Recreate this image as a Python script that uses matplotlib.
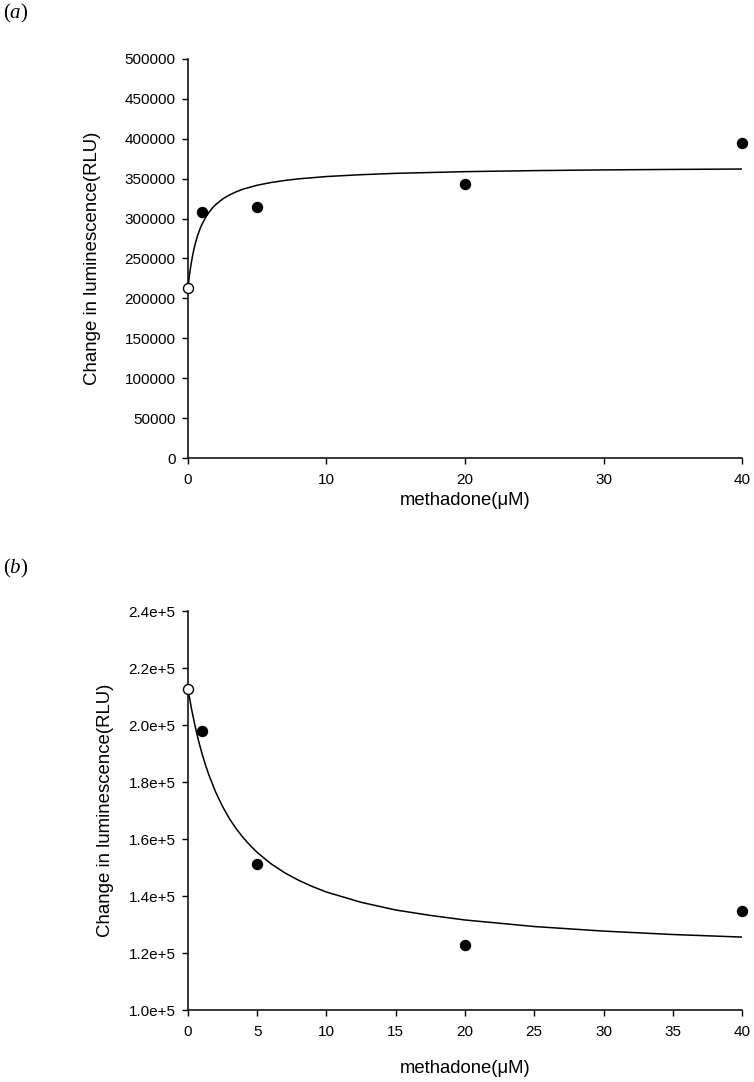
import matplotlib
matplotlib.use("Agg")
import matplotlib.pyplot as plt
from matplotlib.ticker import FuncFormatter

plt.rcParams["font.family"] = ["Liberation Sans", "DejaVu Sans"]
plt.rcParams["mathtext.fontset"] = "custom"
plt.rcParams["mathtext.it"] = "Liberation Serif:italic"
plt.rcParams["mathtext.rm"] = "Liberation Serif"

# measured points (methadone dose, luminescence)
dose = [0, 1, 5, 20, 40]
lum_a = [213000, 308000, 315000, 343000, 395000]
lum_b = [212600, 198000, 151200, 122800, 134700]

# fitted curves
fit_x_a = [0, 0.05, 0.1, 0.15, 0.2, 0.3, 0.4, 0.5, 0.6, 0.7, 0.8, 0.9, 1, 1.25, 1.5,
           1.75, 2, 2.5, 3, 3.5, 4, 5, 6, 7, 8, 10, 12.5, 15, 20, 25, 30, 35, 40]
fit_y_a = [213000, 220800, 228000, 234500, 240200, 250400, 259200, 266700, 273200,
           278900, 283900, 288400, 292400, 300600, 307500, 313000, 317500, 324500,
           329700, 333700, 337000, 341800, 345200, 347800, 349800, 352700, 355000,
           356700, 358800, 360100, 361000, 361600, 362100]
fit_x_b = [0, 0.25, 0.5, 0.75, 1, 1.25, 1.5, 2, 2.5, 3, 3.5, 4, 4.5, 5, 6, 7, 8, 9, 10,
           12.5, 15, 17.5, 20, 25, 30, 35, 40]
fit_y_b = [212600, 205800, 199900, 194700, 190200, 186200, 182600, 176450, 171400,
           167100, 163500, 160400, 157700, 155300, 151300, 148100, 145500, 143300,
           141400, 137800, 135100, 133200, 131600, 129300, 127700, 126500, 125600]

xticks_a = [0, 10, 20, 30, 40]
yticks_a = list(range(0, 500001, 50000))
xticks_b = [0, 5, 10, 15, 20, 25, 30, 35, 40]
yticks_b = [1.0e5, 1.2e5, 1.4e5, 1.6e5, 1.8e5, 2.0e5, 2.2e5, 2.4e5]

fig = plt.figure(figsize=(7.54, 10.82), dpi=100)
ax_a = fig.add_axes([0.2493, 0.5767, 0.7348, 0.3688])
ax_b = fig.add_axes([0.2493, 0.0665, 0.7348, 0.3688])


def style(ax):
    for s in ["top", "right"]:
        ax.spines[s].set_visible(False)
    for s in ["left", "bottom"]:
        ax.spines[s].set_linewidth(1.1)
    ax.tick_params(direction="out", length=4, width=1.0, labelsize=11)
    ax.tick_params(axis="x", pad=7)
    ax.tick_params(axis="y", pad=5)


for ax, y, fx, fy in [(ax_a, lum_a, fit_x_a, fit_y_a), (ax_b, lum_b, fit_x_b, fit_y_b)]:
    ax.plot(fx, fy, color="black", lw=1.1, zorder=2)
    ax.plot(dose[1:], y[1:], "o", color="black", ms=7.2, zorder=3, clip_on=False)
    ax.plot(dose[:1], y[:1], "o", mfc="white", mec="black", mew=1.0, ms=7.2,
            zorder=3, clip_on=False)
    style(ax)
    ax.set_xlim(0, 40)
    ax.set_xlabel("methadone(\u03bcM)", fontsize=13.3)
    ax.set_ylabel("Change in luminescence(RLU)", fontsize=13.4)

ax_a.set_ylim(0, 500000)
ax_a.set_xticks(xticks_a)
ax_a.set_yticks(yticks_a)
ax_a.yaxis.set_major_formatter(FuncFormatter(lambda v, p: "%d" % v))
ax_a.xaxis.set_label_coords(0.5, -0.085)
ax_a.yaxis.set_label_coords(-0.157, 0.5)

ax_b.set_ylim(1.0e5, 2.4e5)
ax_b.set_xticks(xticks_b)
ax_b.set_yticks(yticks_b)
ax_b.yaxis.set_major_formatter(FuncFormatter(lambda v, p: "%.1fe+5" % (v / 1e5)))
ax_b.xaxis.set_label_coords(0.5, -0.125)
ax_b.yaxis.set_label_coords(-0.134, 0.5)

fig.text(0.004, 1 - 13 / 1082, r"($\mathit{a}$)", fontsize=15, va="center", ha="left",
         family="Liberation Serif")
fig.text(0.004, 1 - 568 / 1082, r"($\mathit{b}$)", fontsize=15, va="center", ha="left",
         family="Liberation Serif")

fig.savefig("out.png", dpi=100)
